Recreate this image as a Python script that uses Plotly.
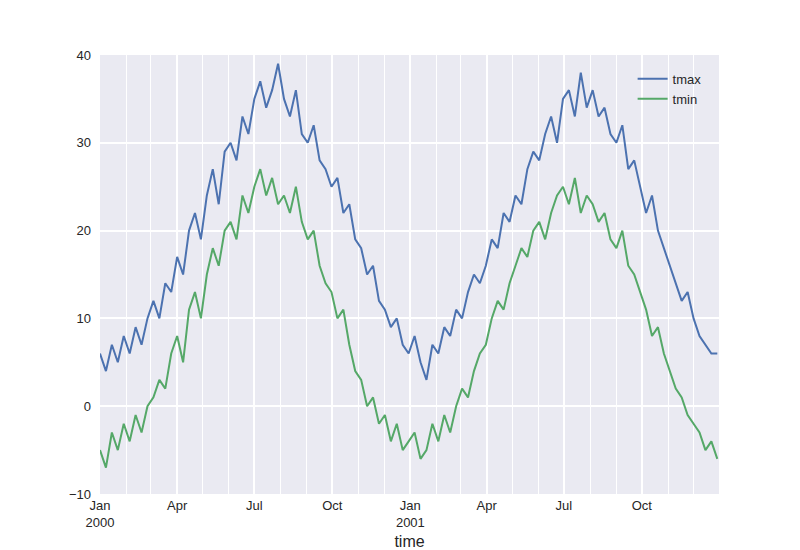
import pandas as pd
import plotly.graph_objects as go

# weekly readings
dates = pd.date_range("2000-01-01", periods=105, freq="7D")

tmax = [6, 4, 7, 5, 8, 6, 9, 7, 10, 12, 10, 14, 13,
        17, 15, 20, 22, 19, 24, 27, 23, 29, 30, 28, 33, 31,
        35, 37, 34, 36, 39, 35, 33, 36, 31, 30, 32, 28, 27,
        25, 26, 22, 23, 19, 18, 15, 16, 12, 11, 9, 10, 7,
        6, 8, 5, 3, 7, 6, 9, 8, 11, 10, 13, 15, 14,
        16, 19, 18, 22, 21, 24, 23, 27, 29, 28, 31, 33, 30,
        35, 36, 33, 38, 34, 36, 33, 34, 31, 30, 32, 27, 28,
        25, 22, 24, 20, 18, 16, 14, 12, 13, 10, 8, 7, 6, 6]

tmin = [-5, -7, -3, -5, -2, -4, -1, -3, 0, 1, 3, 2, 6,
        8, 5, 11, 13, 10, 15, 18, 16, 20, 21, 19, 24, 22,
        25, 27, 24, 26, 23, 24, 22, 25, 21, 19, 20, 16, 14,
        13, 10, 11, 7, 4, 3, 0, 1, -2, -1, -4, -2, -5,
        -4, -3, -6, -5, -2, -4, -1, -3, 0, 2, 1, 4, 6,
        7, 10, 12, 11, 14, 16, 18, 17, 20, 21, 19, 22, 24,
        25, 23, 26, 22, 24, 23, 21, 22, 19, 18, 20, 16, 15,
        13, 11, 8, 9, 6, 4, 2, 1, -1, -2, -3, -5, -4, -6]

tick_vals = ["2000-01-01", "2000-04-01", "2000-07-01", "2000-10-01",
             "2001-01-01", "2001-04-01", "2001-07-01", "2001-10-01"]
tick_text = ["Jan<br>2000", "Apr", "Jul", "Oct", "Jan<br>2001", "Apr", "Jul", "Oct"]

fig = go.Figure()
fig.add_trace(go.Scatter(x=dates, y=tmax, mode="lines", name="tmax",
                         line=dict(color="#4C72B0", width=2)))
fig.add_trace(go.Scatter(x=dates, y=tmin, mode="lines", name="tmin",
                         line=dict(color="#55A868", width=2)))

fig.update_layout(
    width=800, height=550,
    margin=dict(l=92, r=89, t=47, b=64, autoexpand=False),
    paper_bgcolor="white", plot_bgcolor="#EAEAF2",
    font=dict(family="Liberation Sans, Arial", size=13, color="#262626"),
    legend=dict(x=0.98, y=0.98, xanchor="right", yanchor="top",
                bgcolor="rgba(0,0,0,0)", font=dict(size=13)),
)
fig.update_xaxes(range=["2000-01-01", "2001-12-31"], tickvals=tick_vals, ticktext=tick_text,
                 gridcolor="white", gridwidth=1.5, showline=False, zeroline=False,
                 automargin=False, ticklabelstandoff=2,
                 minor=dict(dtick="M1", tick0="2000-01-01", showgrid=True,
                            gridcolor="white", gridwidth=1),
                 title=dict(text="time", standoff=6))
fig.update_yaxes(range=[-10, 40], dtick=10, gridcolor="white", gridwidth=1.5,
                 zeroline=False, showline=False, automargin=False, ticklabelstandoff=8)

fig.write_html("out.html")
